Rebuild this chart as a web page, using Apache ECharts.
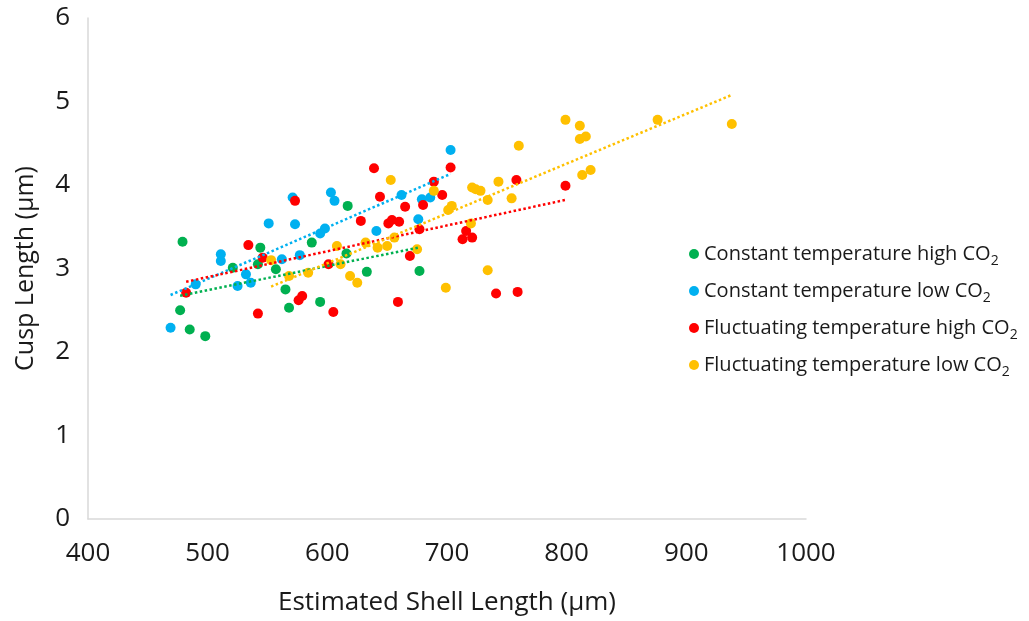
<!DOCTYPE html>
<html>
<head>
<meta charset="utf-8">
<script src="https://cdn.jsdelivr.net/npm/echarts@6/dist/echarts.min.js"></script>
<style>
  html, body { margin: 0; padding: 0; background: #fff; }
  #chart { width: 1029px; height: 621px; }
</style>
</head>
<body>
<div id="chart"></div>
<script>
// [shell length µm, cusp length µm]
const constHighCO2 = [
  [479, 3.32], [477, 2.50], [485, 2.27], [498, 2.19], [521, 3.01], [544, 3.25],
  [542, 3.05], [557, 2.99], [565, 2.75], [568, 2.53], [587, 3.31], [594, 2.60],
  [617, 3.75], [616, 3.18], [633, 2.96], [677, 2.97]
]
const constLowCO2 = [
  [469, 2.29], [490, 2.81], [511, 3.17], [511, 3.09], [525, 2.79], [532, 2.93],
  [536, 2.83], [551, 3.54], [571, 3.85], [573, 3.53], [562, 3.11], [577, 3.16],
  [594, 3.42], [598, 3.48], [603, 3.91], [606, 3.81], [641, 3.45], [662, 3.88],
  [676, 3.59], [679, 3.83], [686, 3.85], [703, 4.42]
]
const fluctHighCO2 = [
  [482, 2.71], [534, 3.28], [546, 3.13], [542, 2.46], [573, 3.81], [576, 2.62],
  [579, 2.67], [605, 2.48], [601, 3.05], [628, 3.57], [639, 4.20], [644, 3.86],
  [651, 3.54], [654, 3.58], [660, 3.56], [665, 3.74], [659, 2.60], [669, 3.15],
  [677, 3.47], [680, 3.76], [689, 4.04], [696, 3.88], [703, 4.21], [716, 3.45],
  [713, 3.35], [721, 3.37], [758, 4.06], [799, 3.99], [741, 2.70], [759, 2.72]
]
const fluctLowCO2 = [
  [553, 3.10], [568, 2.91], [584, 2.95], [608, 3.27], [611, 3.05], [619, 2.91],
  [625, 2.83], [632, 3.31], [642, 3.25], [650, 3.27], [656, 3.37], [653, 4.06],
  [675, 3.23], [689, 3.93], [699, 2.77], [701, 3.70], [704, 3.75], [720, 3.54],
  [721, 3.97], [724, 3.95], [728, 3.93], [734, 3.82], [743, 4.04], [754, 3.84],
  [760, 4.47], [734, 2.98], [799, 4.78], [811, 4.71], [811, 4.55], [816, 4.58],
  [813, 4.12], [820, 4.18], [876, 4.78], [938, 4.73]
]

const seriesNames = [
  'Constant temperature high CO2',
  'Constant temperature low CO2',
  'Fluctuating temperature high CO2',
  'Fluctuating temperature low CO2'
]
const seriesData = [constHighCO2, constLowCO2, fluctHighCO2, fluctLowCO2]
const colors = ['#00B050', '#00B0F0', '#FF0000', '#FFC000']

// linear trend line (least squares) spanning the series' x range
function trend(pts) {
  const n = pts.length
  let sx = 0, sy = 0, sxx = 0, sxy = 0
  pts.forEach(([x, y]) => { sx += x; sy += y; sxx += x * x; sxy += x * y })
  const b = (n * sxy - sx * sy) / (n * sxx - sx * sx)
  const a = (sy - b * sx) / n
  const xs = pts.map(p => p[0])
  const x0 = Math.min(...xs), x1 = Math.max(...xs)
  return [[x0, a + b * x0], [x1, a + b * x1]]
}

const font = '"Open Sans", sans-serif'
const textColor = '#1a1a1a'
const chart = echarts.init(document.getElementById('chart'))

const scatterSeries = seriesData.map((d, i) => ({
  name: seriesNames[i],
  type: 'scatter',
  data: d,
  symbolSize: 10,
  itemStyle: { color: colors[i], opacity: 1 },
  z: 2
}))
const trendSeries = seriesData.map((d, i) => ({
  name: seriesNames[i] + ' trend',
  type: 'line',
  data: trend(d),
  symbol: 'none',
  silent: true,
  lineStyle: { color: colors[i], width: 2.5, type: [2.5, 2.5] },
  z: 3
}))

chart.setOption({
  backgroundColor: '#fff',
  animation: false,
  textStyle: { fontFamily: font },
  grid: { left: 88, right: 223, top: 18, bottom: 102, outerBoundsMode: 'none', containLabel: false },
  xAxis: {
    type: 'value',
    min: 400, max: 1000, interval: 100,
    name: 'Estimated Shell Length (µm)',
    nameLocation: 'middle',
    nameGap: 71,
    nameTextStyle: { fontSize: 26, color: textColor, fontFamily: font },
    axisLine: { show: true, lineStyle: { color: '#d9d9d9', width: 1.5 } },
    axisTick: { show: false },
    splitLine: { show: false },
    axisLabel: { fontSize: 26, color: textColor, margin: 22, fontFamily: font, formatter: v => String(v) }
  },
  yAxis: {
    type: 'value',
    min: 0, max: 6, interval: 1,
    name: 'Cusp Length (µm)',
    nameLocation: 'middle',
    nameGap: 50,
    nameTextStyle: { fontSize: 25, color: textColor, fontFamily: font },
    axisLine: { show: true, lineStyle: { color: '#d9d9d9', width: 1.5 } },
    axisTick: { show: false },
    splitLine: { show: false },
    axisLabel: { fontSize: 26, color: textColor, margin: 18, fontFamily: font }
  },
  legend: {
    data: seriesNames,
    orient: 'vertical',
    left: 684,
    top: 239,
    itemGap: 13,
    itemWidth: 10,
    itemHeight: 10,
    icon: 'circle',
    formatter: name => name.replace(/CO2$/, 'CO{sub|2}'),
    textStyle: {
      fontSize: 20,
      color: textColor,
      fontFamily: font,
      rich: {
        sub: { fontSize: 14, color: textColor, fontFamily: font, padding: [14, 0, 0, 0] }
      }
    }
  },
  series: scatterSeries.concat(trendSeries)
})
</script>
</body>
</html>
